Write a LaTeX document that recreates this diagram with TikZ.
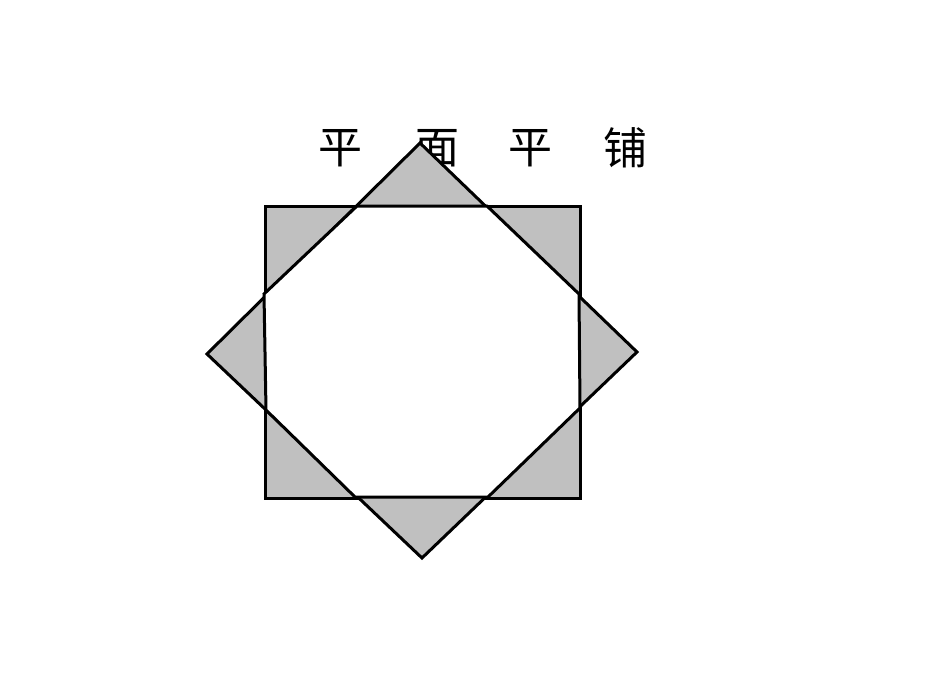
\documentclass[tikz,border=0pt]{standalone}
\usepackage{fontspec}
\newfontfamily\cjk{Noto Sans CJK SC}
\definecolor{tilegray}{HTML}{C0C0C0}
\tikzset{
  tile/.style={draw=black, line width=3pt, fill=tilegray, line join=miter},
  hole/.style={draw=black, line width=3pt, fill=white, line join=miter},
  title/.style={font=\cjk\fontsize{44pt}{44pt}\selectfont, inner sep=0pt, anchor=center}
}
\begin{document}
\begin{tikzpicture}[x=1pt,y=-1pt]
\useasboundingbox (0,0) rectangle (950,672);
\node[title] (t1) at (340,148) {平};
\node[title] (t2) at (437,148) {面};
\node[title] (t3) at (530,148) {平};
\node[title] (t4) at (625,148) {铺};
\draw[tile] (265,206) rectangle (580,498);
\draw[tile] (420,143) -- (637,352) -- (422,558) -- (207,354) -- cycle;
\draw[hole] (357,206) -- (487,206) -- (579,294) -- (580,408) -- (488,497)
  -- (355,497) -- (266,410) -- (264,294) -- cycle;
\end{tikzpicture}
\end{document}
